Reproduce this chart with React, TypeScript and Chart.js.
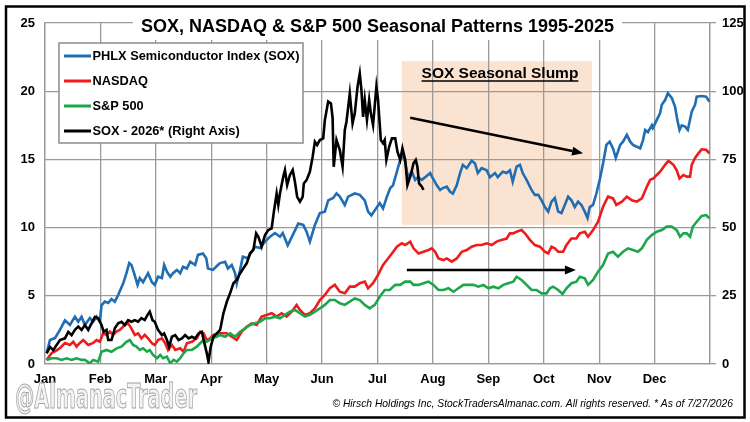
import React, { useEffect, useRef } from "react";
import { Chart, registerables } from "chart.js";

Chart.register(...registerables);

const MONTHS = ["Jan", "Feb", "Mar", "Apr", "May", "Jun", "Jul", "Aug", "Sep", "Oct", "Nov", "Dec"];
const LEFT_TICKS = [0, 5, 10, 15, 20, 25];
const RIGHT_TICKS = [0, 25, 50, 75, 100, 125];

const TITLE = "SOX, NASDAQ & S&P 500 Seasonal Patterns 1995-2025";
const SERIES_LABELS = ["PHLX Semiconductor Index (SOX)", "NASDAQ", "S&P 500", "SOX - 2026* (Right Axis)"];
const SERIES_COLORS = ["#1f6db3", "#ee1c1c", "#1ea64b", "#000000"];
const SLUMP_LABEL = "SOX Seasonal Slump";
const WATERMARK = "@AlmanacTrader";
const COPYRIGHT = "\u00a9 Hirsch Holdings Inc, StockTradersAlmanac.com. All rights reserved. * As of 7/27/2026";

// [month position (0 = Jan 1 .. 12 = Dec 31), value]
const SOX: [number, number][] = [
  [0.03, 0.8], [0.09, 1.76], [0.18, 1.9], [0.27, 2.5], [0.36, 3.2], [0.45, 2.86], [0.54, 3.47], [0.6, 3.1],
  [0.66, 3.47], [0.72, 2.86], [0.81, 3.37], [0.87, 3.1], [0.93, 3.47], [0.99, 3.1], [1.02, 4.3], [1.08, 4.57],
  [1.14, 4.47], [1.2, 4.76], [1.26, 4.57], [1.32, 5.06], [1.41, 5.9], [1.47, 6.66], [1.52, 7.4], [1.56, 7.26],
  [1.62, 6.5], [1.67, 5.8], [1.71, 6.3], [1.77, 6.0], [1.86, 6.66], [1.93, 6.0], [1.98, 5.8], [2.04, 6.4],
  [2.11, 6.3], [2.15, 7.26], [2.2, 6.77], [2.26, 6.4], [2.31, 6.66], [2.38, 6.9], [2.44, 6.66], [2.49, 7.13],
  [2.56, 7.0], [2.62, 7.5], [2.71, 7.26], [2.76, 8.0], [2.85, 8.1], [2.91, 7.76], [2.94, 7.0], [3.03, 6.9],
  [3.12, 7.26], [3.16, 7.4], [3.25, 7.5], [3.3, 7.0], [3.37, 7.26], [3.43, 6.66], [3.46, 5.9], [3.52, 6.9],
  [3.57, 7.87], [3.66, 7.76], [3.73, 8.23], [3.79, 8.6], [3.88, 8.5], [3.97, 8.97], [4.06, 9.33], [4.15, 9.6],
  [4.24, 9.33], [4.29, 9.6], [4.38, 8.7], [4.47, 9.45], [4.57, 10.3], [4.66, 10.2], [4.72, 9.7], [4.78, 8.97],
  [4.87, 10.2], [4.96, 11.07], [5.05, 11.17], [5.11, 12.0], [5.2, 12.17], [5.26, 12.5], [5.32, 12.27], [5.41, 11.66],
  [5.47, 12.27], [5.59, 12.5], [5.68, 12.4], [5.77, 12.0], [5.83, 11.17], [5.89, 10.9], [5.99, 11.5], [6.04, 11.8],
  [6.1, 11.4], [6.17, 12.27], [6.23, 12.9], [6.28, 13.1], [6.35, 14.1], [6.44, 15.4], [6.5, 14.8], [6.55, 13.7],
  [6.62, 14.1], [6.68, 13.5], [6.73, 13.7], [6.8, 13.5], [6.86, 13.7], [6.95, 14.0], [7.0, 13.6], [7.07, 13.1],
  [7.13, 12.76], [7.18, 12.9], [7.25, 13.0], [7.31, 12.63], [7.36, 12.5], [7.43, 13.1], [7.49, 14.0], [7.54, 14.6],
  [7.61, 14.36], [7.7, 14.9], [7.76, 14.7], [7.81, 14.0], [7.88, 14.36], [7.97, 14.2], [8.03, 13.7], [8.12, 14.0],
  [8.17, 13.7], [8.26, 14.1], [8.33, 14.0], [8.39, 14.2], [8.44, 13.37], [8.51, 14.47], [8.57, 14.6], [8.62, 14.0],
  [8.69, 13.5], [8.78, 12.76], [8.84, 12.4], [8.9, 12.4], [8.96, 12.0], [9.02, 11.5], [9.08, 11.17], [9.14, 11.9],
  [9.2, 12.17], [9.26, 11.17], [9.32, 11.07], [9.38, 11.66], [9.44, 12.27], [9.5, 12.0], [9.56, 11.5], [9.62, 11.9],
  [9.68, 11.66], [9.74, 11.17], [9.79, 10.7], [9.83, 11.5], [9.89, 11.66], [9.95, 12.5], [10.01, 13.5], [10.07, 14.7],
  [10.13, 16.06], [10.19, 16.3], [10.25, 15.8], [10.3, 15.1], [10.38, 16.06], [10.43, 16.3], [10.5, 16.8], [10.56, 16.3],
  [10.61, 16.06], [10.68, 15.93], [10.74, 15.8], [10.79, 16.4], [10.83, 17.16], [10.88, 17.0], [10.95, 17.5], [10.97, 17.3],
  [11.04, 17.9], [11.1, 18.4], [11.13, 19.0], [11.19, 19.35], [11.24, 19.85], [11.31, 19.5], [11.37, 18.86], [11.41, 17.9],
  [11.45, 17.16], [11.49, 17.5], [11.55, 17.4], [11.6, 17.16], [11.67, 18.5], [11.73, 19.0], [11.76, 19.6], [11.85, 19.65],
  [11.93, 19.6], [11.99, 19.23],
];

const NASDAQ: [number, number][] = [
  [0.03, 0.3], [0.12, 0.8], [0.21, 1.0], [0.27, 1.17], [0.36, 1.54], [0.45, 1.4], [0.51, 1.63], [0.57, 1.27],
  [0.63, 1.54], [0.69, 1.76], [0.78, 1.4], [0.87, 1.54], [0.93, 1.76], [0.99, 1.63], [1.05, 2.25], [1.11, 2.13],
  [1.17, 2.37], [1.23, 2.13], [1.29, 2.37], [1.35, 2.5], [1.44, 2.86], [1.5, 2.98], [1.56, 2.6], [1.62, 2.13],
  [1.68, 2.25], [1.74, 1.88], [1.8, 2.13], [1.86, 1.88], [1.93, 1.52], [1.98, 1.4], [2.04, 1.76], [2.11, 1.88],
  [2.17, 1.52], [2.22, 1.03], [2.29, 1.4], [2.35, 1.03], [2.44, 1.15], [2.5, 0.9], [2.56, 1.52], [2.65, 1.63],
  [2.74, 1.88], [2.8, 2.37], [2.86, 2.25], [2.92, 1.76], [2.98, 1.88], [3.04, 2.13], [3.13, 2.25], [3.16, 2.25],
  [3.28, 2.25], [3.37, 2.0], [3.46, 1.76], [3.55, 2.37], [3.64, 2.73], [3.73, 2.98], [3.82, 2.86], [3.91, 3.47],
  [4.0, 3.6], [4.09, 3.72], [4.18, 3.47], [4.27, 3.72], [4.36, 3.47], [4.45, 3.83], [4.54, 4.33], [4.6, 3.96],
  [4.69, 3.6], [4.78, 3.72], [4.87, 4.08], [4.96, 4.69], [5.05, 5.06], [5.14, 5.55], [5.23, 5.8], [5.32, 5.3],
  [5.41, 5.18], [5.5, 5.67], [5.59, 5.67], [5.68, 5.92], [5.77, 6.04], [5.83, 5.55], [5.92, 5.92], [6.01, 6.53],
  [6.1, 7.26], [6.17, 7.62], [6.26, 8.1], [6.35, 8.6], [6.44, 8.85], [6.5, 8.72], [6.59, 8.97], [6.65, 8.48],
  [6.74, 8.1], [6.83, 8.23], [6.92, 8.36], [6.98, 8.48], [7.04, 8.23], [7.1, 7.74], [7.19, 7.62], [7.25, 7.74],
  [7.34, 7.5], [7.43, 7.74], [7.52, 8.23], [7.61, 8.36], [7.7, 8.6], [7.79, 8.72], [7.88, 8.72], [7.97, 8.85],
  [8.06, 8.72], [8.15, 8.97], [8.24, 9.1], [8.33, 9.2], [8.39, 9.58], [8.45, 9.58], [8.51, 9.7], [8.6, 9.82],
  [8.66, 9.58], [8.75, 9.1], [8.84, 8.72], [8.93, 8.6], [9.02, 8.23], [9.08, 8.1], [9.14, 8.6], [9.2, 8.48],
  [9.26, 8.23], [9.35, 8.23], [9.41, 8.72], [9.5, 9.2], [9.59, 9.2], [9.65, 9.58], [9.74, 9.7], [9.8, 9.33],
  [9.89, 9.82], [9.98, 10.43], [10.07, 11.53], [10.16, 12.27], [10.25, 12.14], [10.31, 11.66], [10.41, 11.9], [10.5, 12.27],
  [10.59, 12.0], [10.68, 11.9], [10.77, 12.14], [10.86, 13.0], [10.92, 13.5], [10.98, 13.6], [11.04, 13.86], [11.1, 14.1],
  [11.19, 14.6], [11.25, 14.9], [11.34, 14.6], [11.4, 14.2], [11.45, 13.6], [11.52, 13.86], [11.58, 13.74], [11.64, 13.74],
  [11.67, 14.6], [11.73, 15.1], [11.79, 15.44], [11.85, 15.74], [11.93, 15.7], [11.99, 15.44],
];

const SP500: [number, number][] = [
  [0.03, 0.3], [0.12, 0.42], [0.21, 0.42], [0.3, 0.3], [0.39, 0.42], [0.48, 0.3], [0.57, 0.42], [0.66, 0.3],
  [0.72, 0.3], [0.81, 0.05], [0.87, 0.3], [0.96, 0.17], [1.02, 0.9], [1.11, 1.03], [1.2, 0.9], [1.29, 1.15],
  [1.38, 1.27], [1.47, 1.63], [1.53, 1.76], [1.59, 1.4], [1.65, 1.27], [1.71, 1.03], [1.77, 1.15], [1.84, 0.9],
  [1.89, 1.03], [1.95, 0.66], [2.02, 0.42], [2.08, 0.66], [2.13, 0.42], [2.2, 0.54], [2.26, 0.05], [2.32, 0.3],
  [2.38, 0.17], [2.44, 0.42], [2.5, 0.78], [2.56, 1.03], [2.65, 1.03], [2.74, 1.27], [2.8, 1.52], [2.86, 1.76],
  [2.92, 1.63], [3.01, 1.88], [3.1, 2.0], [3.16, 2.13], [3.25, 2.0], [3.34, 2.25], [3.43, 2.0], [3.52, 2.37],
  [3.61, 2.6], [3.7, 2.86], [3.79, 2.98], [3.88, 3.1], [3.97, 3.35], [4.06, 3.35], [4.15, 3.47], [4.24, 3.35],
  [4.33, 3.6], [4.42, 3.83], [4.51, 3.96], [4.6, 3.72], [4.69, 3.47], [4.78, 3.6], [4.87, 3.83], [4.96, 4.08],
  [5.05, 4.33], [5.14, 4.69], [5.23, 4.69], [5.32, 4.45], [5.41, 4.33], [5.5, 4.57], [5.59, 4.81], [5.68, 4.69],
  [5.77, 4.33], [5.86, 4.08], [5.95, 4.33], [6.04, 4.93], [6.13, 5.43], [6.22, 5.43], [6.32, 5.8], [6.41, 5.8],
  [6.5, 6.04], [6.59, 6.04], [6.65, 5.8], [6.74, 5.8], [6.83, 5.92], [6.92, 6.04], [7.01, 5.8], [7.1, 5.43],
  [7.19, 5.43], [7.28, 5.55], [7.37, 5.3], [7.46, 5.55], [7.55, 5.8], [7.64, 5.8], [7.73, 5.8], [7.82, 5.67],
  [7.91, 5.8], [8.0, 5.55], [8.09, 5.67], [8.18, 5.55], [8.27, 5.8], [8.36, 5.92], [8.45, 6.04], [8.51, 6.4],
  [8.6, 6.16], [8.69, 5.8], [8.78, 5.43], [8.87, 5.43], [8.96, 5.18], [9.05, 5.18], [9.11, 5.55], [9.17, 5.67],
  [9.26, 5.43], [9.34, 5.13], [9.41, 5.55], [9.5, 5.92], [9.59, 6.04], [9.65, 6.4], [9.74, 6.28], [9.8, 5.8],
  [9.89, 6.16], [9.98, 6.77], [10.07, 7.26], [10.16, 8.1], [10.25, 8.23], [10.34, 7.87], [10.43, 8.23], [10.52, 8.48],
  [10.61, 8.36], [10.7, 8.23], [10.77, 8.48], [10.86, 9.1], [10.95, 9.45], [11.04, 9.7], [11.13, 9.82], [11.22, 10.07],
  [11.31, 10.07], [11.4, 9.82], [11.46, 9.33], [11.52, 9.58], [11.58, 9.58], [11.64, 9.33], [11.69, 10.07], [11.76, 10.43],
  [11.85, 10.85], [11.93, 10.92], [11.99, 10.68],
];

// right axis values
const SOX_2026: [number, number][] = [
  [0.03, 3.9], [0.09, 6.3], [0.15, 5.1], [0.21, 7.0], [0.27, 8.8], [0.36, 9.4], [0.42, 11.8], [0.48, 10.6],
  [0.54, 12.5], [0.6, 13.7], [0.66, 12.5], [0.72, 14.3], [0.78, 12.5], [0.84, 14.9], [0.9, 17.3], [0.96, 16.8],
  [1.02, 14.3], [1.06, 11.8], [1.11, 12.5], [1.14, 8.8], [1.2, 8.8], [1.26, 13.1], [1.32, 14.9], [1.38, 15.5],
  [1.44, 14.3], [1.5, 16.1], [1.56, 15.5], [1.62, 16.1], [1.68, 15.5], [1.74, 16.8], [1.8, 16.1], [1.85, 18.0],
  [1.89, 19.2], [1.94, 16.1], [1.98, 15.5], [2.04, 12.5], [2.11, 10.6], [2.15, 11.2], [2.2, 8.8], [2.24, 6.3],
  [2.29, 10.0], [2.35, 10.6], [2.41, 8.8], [2.47, 9.4], [2.53, 10.6], [2.59, 9.4], [2.65, 10.0], [2.71, 9.4],
  [2.77, 11.2], [2.83, 11.8], [2.87, 8.2], [2.92, 3.9], [2.95, 0.8], [2.99, 6.3], [3.04, 10.0], [3.1, 11.2],
  [3.16, 12.5], [3.22, 18.6], [3.28, 22.8], [3.34, 25.9], [3.4, 29.6], [3.46, 30.8], [3.52, 33.2], [3.58, 35.1],
  [3.64, 36.9], [3.7, 40.6], [3.76, 41.8], [3.81, 47.9], [3.85, 46.6], [3.91, 43.0], [3.97, 47.3], [4.03, 49.1],
  [4.09, 49.7], [4.13, 55.8], [4.18, 62.5], [4.21, 58.3], [4.24, 62.5], [4.3, 68.7], [4.33, 71.1], [4.37, 65.6],
  [4.42, 69.3], [4.47, 71.1], [4.51, 66.8], [4.55, 61.3], [4.6, 59.5], [4.65, 61.3], [4.67, 66.2], [4.72, 67.4],
  [4.78, 70.5], [4.83, 76.0], [4.87, 81.5], [4.91, 80.3], [4.96, 82.1], [5.02, 82.7], [5.05, 89.4], [5.11, 96.2],
  [5.16, 95.5], [5.19, 90.1], [5.21, 72.3], [5.26, 82.1], [5.32, 78.4], [5.37, 72.3], [5.41, 85.8], [5.44, 88.8],
  [5.5, 99.2], [5.55, 88.2], [5.59, 91.9], [5.64, 101.7], [5.68, 106.5], [5.71, 100.4], [5.74, 90.6], [5.77, 96.8],
  [5.81, 89.4], [5.85, 96.8], [5.88, 91.9], [5.92, 87.6], [5.98, 101.7], [6.01, 96.8], [6.06, 82.1], [6.1, 80.9],
  [6.13, 82.1], [6.16, 74.8], [6.21, 79.6], [6.26, 82.7], [6.32, 82.7], [6.36, 77.8], [6.41, 74.8], [6.45, 79.1],
  [6.5, 74.8], [6.54, 65.6], [6.6, 69.3], [6.65, 73.6], [6.69, 74.8], [6.72, 72.3], [6.75, 66.2], [6.8, 65.0],
  [6.83, 63.8],
];

// annotation positions in data units (months / left-axis value)
const SLUMP_BOX = { x0: 6.44, x1: 9.87, y0: 10.2, y1: 22.2 };
const SLUMP_TEXT_AT = { x: 8.21, y: 21.3 };
const ARROW_SOX = { x0: 6.59, y0: 18.05, x1: 9.71, y1: 15.45 };
const ARROW_INDEX = { x0: 6.53, y0: 6.9, x1: 9.58, y1: 6.9 };

const FONT = "'Liberation Sans', Arial, sans-serif";
const GRID = "#9a9a9a";

function drawArrow(ctx: CanvasRenderingContext2D, x0: number, y0: number, x1: number, y1: number) {
  const ang = Math.atan2(y1 - y0, x1 - x0);
  const hl = 11;
  const hw = 4.5;
  const bx = x1 - hl * Math.cos(ang);
  const by = y1 - hl * Math.sin(ang);
  ctx.save();
  ctx.strokeStyle = "#000";
  ctx.fillStyle = "#000";
  ctx.lineWidth = 2.5;
  ctx.beginPath();
  ctx.moveTo(x0, y0);
  ctx.lineTo(bx, by);
  ctx.stroke();
  ctx.beginPath();
  ctx.moveTo(x1, y1);
  ctx.lineTo(bx + hw * Math.sin(ang), by - hw * Math.cos(ang));
  ctx.lineTo(bx - hw * Math.sin(ang), by + hw * Math.cos(ang));
  ctx.closePath();
  ctx.fill();
  ctx.restore();
}

const decorPlugin = {
  id: "decor",
  beforeDraw(chart: any) {
    const { ctx, scales } = chart;
    const x = scales.x;
    const y = scales.y;
    ctx.save();
    ctx.fillStyle = "#fff";
    ctx.fillRect(0, 0, chart.width, chart.height);
    ctx.fillStyle = "#fbe3d2";
    const px0 = x.getPixelForValue(SLUMP_BOX.x0);
    const px1 = x.getPixelForValue(SLUMP_BOX.x1);
    const py0 = y.getPixelForValue(SLUMP_BOX.y1);
    const py1 = y.getPixelForValue(SLUMP_BOX.y0);
    ctx.fillRect(px0, py0, px1 - px0, py1 - py0);
    ctx.restore();
  },
  afterDraw(chart: any) {
    const { ctx, scales, chartArea } = chart;
    const x = scales.x;
    const y = scales.y;
    ctx.save();

    // title
    ctx.font = `bold 18px ${FONT}`;
    const tw = ctx.measureText(TITLE).width;
    const tcx = (chartArea.left + chartArea.right) / 2;
    ctx.fillStyle = "#fff";
    ctx.fillRect(tcx - tw / 2 - 8, 12, tw + 16, 28);
    ctx.fillStyle = "#000";
    ctx.textAlign = "center";
    ctx.textBaseline = "middle";
    ctx.fillText(TITLE, tcx, 27.5);

    // legend
    const lx = 59, ly = 43, lw = 244, lh = 100;
    ctx.fillStyle = "#fff";
    ctx.fillRect(lx, ly, lw, lh);
    ctx.strokeStyle = "#8c8c8c";
    ctx.lineWidth = 1.5;
    ctx.strokeRect(lx, ly, lw, lh);
    ctx.font = `bold 12.8px ${FONT}`;
    ctx.textAlign = "left";
    SERIES_LABELS.forEach((lab, i) => {
      const ry = 56 + i * 25;
      ctx.strokeStyle = SERIES_COLORS[i];
      ctx.lineWidth = 3;
      ctx.beginPath();
      ctx.moveTo(64, ry);
      ctx.lineTo(91, ry);
      ctx.stroke();
      ctx.fillStyle = "#000";
      ctx.fillText(lab, 92.5, ry + 0.5);
    });

    // slump label
    ctx.font = `bold 15.5px ${FONT}`;
    ctx.textAlign = "center";
    const sx = x.getPixelForValue(SLUMP_TEXT_AT.x);
    const sy = y.getPixelForValue(SLUMP_TEXT_AT.y);
    ctx.fillStyle = "#000";
    ctx.fillText(SLUMP_LABEL, sx, sy);
    const sw = ctx.measureText(SLUMP_LABEL).width;
    ctx.strokeStyle = "#000";
    ctx.lineWidth = 1.5;
    ctx.beginPath();
    ctx.moveTo(sx - sw / 2, sy + 7.5);
    ctx.lineTo(sx + sw / 2, sy + 7.5);
    ctx.stroke();

    // arrows
    drawArrow(ctx, x.getPixelForValue(ARROW_SOX.x0), y.getPixelForValue(ARROW_SOX.y0), x.getPixelForValue(ARROW_SOX.x1), y.getPixelForValue(ARROW_SOX.y1));
    drawArrow(ctx, x.getPixelForValue(ARROW_INDEX.x0), y.getPixelForValue(ARROW_INDEX.y0), x.getPixelForValue(ARROW_INDEX.x1), y.getPixelForValue(ARROW_INDEX.y1));

    // watermark
    ctx.font = `bold 34px 'DejaVu Sans Condensed', 'DejaVu Sans', sans-serif`;
    const ww = ctx.measureText(WATERMARK).width;
    ctx.translate(15, 408);
    ctx.scale(182 / ww, 1);
    ctx.textAlign = "left";
    ctx.textBaseline = "alphabetic";
    ctx.fillStyle = "#f3f3f3";
    ctx.fillText(WATERMARK, 0, 0);
    ctx.strokeStyle = "#a4a4a4";
    ctx.lineWidth = 1;
    ctx.strokeText(WATERMARK, 0, 0);
    ctx.setTransform(chart.currentDevicePixelRatio, 0, 0, chart.currentDevicePixelRatio, 0, 0);

    // copyright
    ctx.font = `italic 11px ${FONT}`;
    const cw = ctx.measureText(COPYRIGHT).width;
    const cs = 11 * 401 / cw;
    ctx.font = `italic ${cs}px ${FONT}`;
    ctx.fillStyle = "#000";
    ctx.textAlign = "right";
    ctx.textBaseline = "middle";
    ctx.fillText(COPYRIGHT, 733, 404.5);

    // outer frame
    ctx.strokeStyle = "#000";
    ctx.lineWidth = 2.5;
    ctx.strokeRect(6, 6.5, 738.5, 411);
    ctx.restore();
  },
};

export default function App() {
  const ref = useRef<HTMLCanvasElement | null>(null);

  useEffect(() => {
    if (!ref.current) return;
    const toXY = (arr: [number, number][]) => arr.map(([m, v]) => ({ x: m, y: v }));
    const ds = (label: string, data: [number, number][], color: string, axis: string, order: number) => ({
      label,
      data: toXY(data),
      borderColor: color,
      backgroundColor: color,
      borderWidth: 2.6,
      pointRadius: 0,
      tension: 0,
      yAxisID: axis,
      order,
    });
    const tickFont = { family: FONT, weight: "bold" as const, size: 13 };
    const chart = new Chart(ref.current, {
      type: "line",
      data: {
        datasets: [
          ds(SERIES_LABELS[0], SOX, SERIES_COLORS[0], "y", 4),
          ds(SERIES_LABELS[1], NASDAQ, SERIES_COLORS[1], "y", 3),
          ds(SERIES_LABELS[2], SP500, SERIES_COLORS[2], "y", 2),
          ds(SERIES_LABELS[3], SOX_2026, SERIES_COLORS[3], "y1", 1),
        ],
      },
      plugins: [decorPlugin],
      options: {
        animation: false,
        responsive: false,
        devicePixelRatio: 1,
        layout: { padding: { top: 23, left: 0, right: 0, bottom: 0 } },
        plugins: { legend: { display: false }, title: { display: false }, tooltip: { enabled: false } },
        scales: {
          x: {
            type: "linear",
            min: 0,
            max: 12,
            afterBuildTicks: (s: any) => {
              s.ticks = MONTHS.map((_, i) => ({ value: i })).concat([{ value: 12 }]);
            },
            afterFit: (s: any) => {
              s.height = 58;
            },
            ticks: {
              callback: (v: any) => MONTHS[v] ?? "",
              font: tickFont,
              color: "#000",
              padding: 8,
              maxRotation: 0,
              autoSkip: false,
            },
            grid: { color: GRID, lineWidth: 1.3, drawTicks: false },
            border: { color: GRID, width: 1.3 },
          },
          y: {
            position: "left",
            min: 0,
            max: 25,
            afterBuildTicks: (s: any) => {
              s.ticks = LEFT_TICKS.map((v) => ({ value: v }));
            },
            afterFit: (s: any) => {
              s.width = 45;
            },
            ticks: { font: tickFont, color: "#000", padding: 10 },
            grid: { color: GRID, lineWidth: 1.3, drawTicks: false },
            border: { color: GRID, width: 1.3 },
          },
          y1: {
            position: "right",
            min: 0,
            max: 125,
            afterBuildTicks: (s: any) => {
              s.ticks = RIGHT_TICKS.map((v) => ({ value: v }));
            },
            afterFit: (s: any) => {
              s.width = 40;
            },
            ticks: { font: tickFont, color: "#000", padding: 6 },
            grid: { color: GRID, lineWidth: 1.3, drawOnChartArea: false, drawTicks: true, tickLength: 6 },
            border: { color: GRID, width: 1.3 },
          },
        },
      } as any,
    });
    return () => chart.destroy();
  }, []);

  return (
    <div style={{ position: "fixed", left: 0, top: 0, width: 750, height: 422, background: "#fff" }}>
      <canvas ref={ref} width={750} height={422} style={{ width: 750, height: 422, display: "block" }} />
    </div>
  );
}
